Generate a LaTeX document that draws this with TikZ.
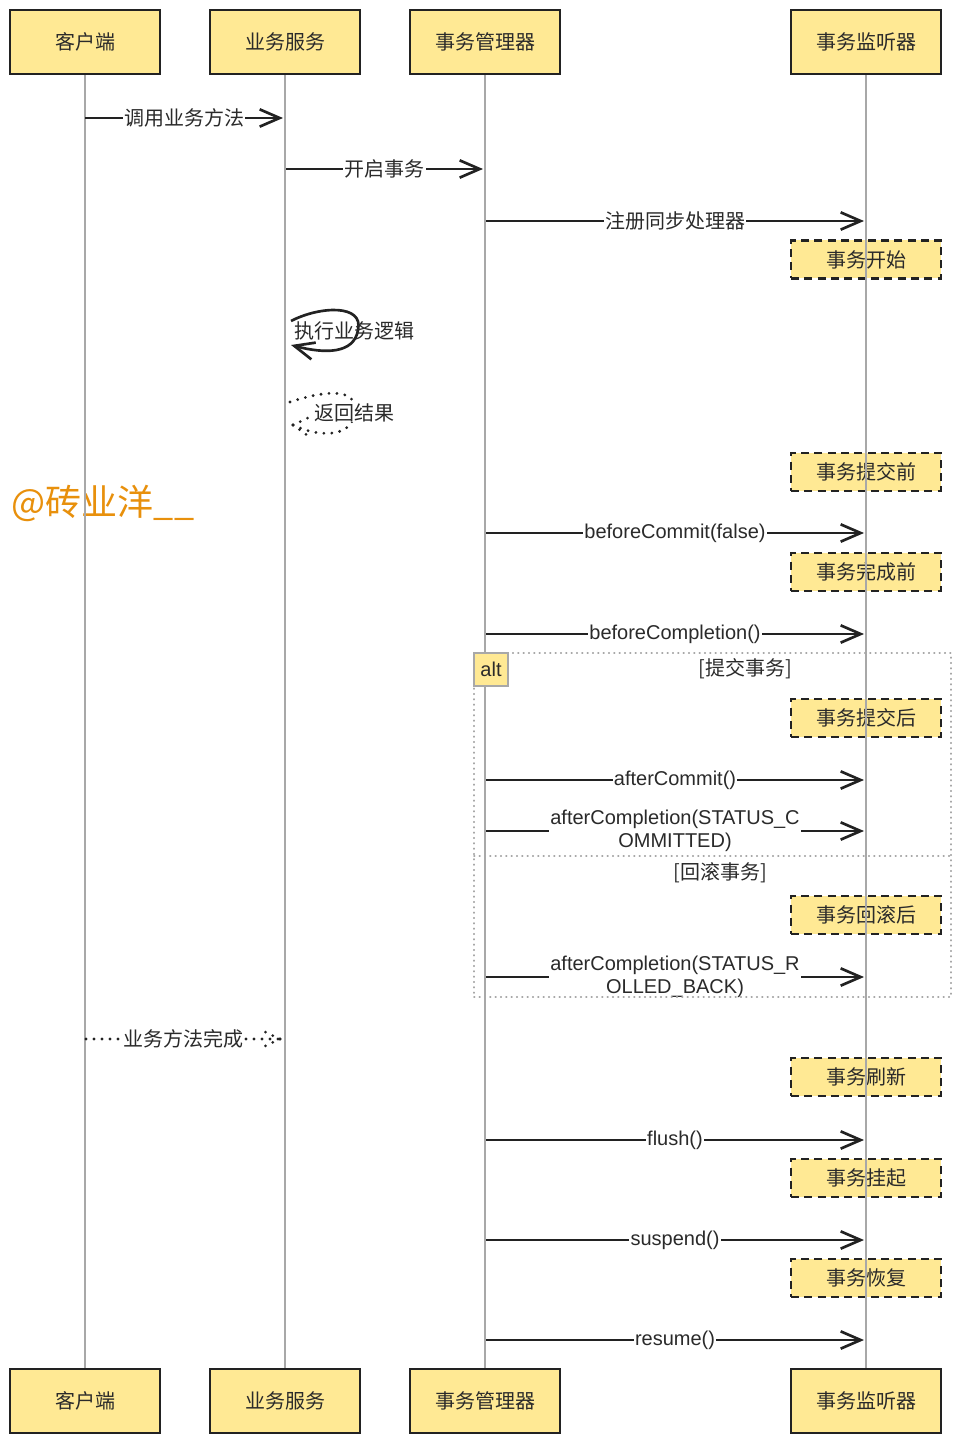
\documentclass[tikz,border=0pt]{standalone}
\usepackage{fontspec}
\setmainfont{Liberation Sans}
\newfontfamily\cjk{Noto Sans CJK SC}
\usetikzlibrary{arrows.meta}
\definecolor{boxfill}{HTML}{FFE994}
\definecolor{ink}{HTML}{222222}
\definecolor{life}{HTML}{A8A8A8}
\definecolor{mark}{HTML}{E8900C}
\definecolor{txt}{HTML}{2A2A2A}
\tikzset{
 actor/.style={draw=ink,line width=1.9pt,fill=boxfill,minimum width=112.5pt,minimum height=48pt,inner sep=0pt,text=txt,font=\cjk\fontsize{15pt}{18pt}\selectfont},
 notebox/.style={draw=ink,line width=1.9pt,dash pattern=on 6pt off 4pt,fill=boxfill,minimum width=112.5pt,minimum height=28.5pt,inner sep=0pt,text=txt,font=\cjk\fontsize{15pt}{18pt}\selectfont},
 lifeline/.style={draw=life,line width=0.9pt},
 msg/.style={draw=ink,line width=2pt,-{Straight Barb[length=15pt,width=13pt,line width=2pt]}},
 lbl/.style={fill=white,inner sep=1pt,text=txt,font=\fontsize{15pt}{17pt}\selectfont},
 clbl/.style={fill=white,inner sep=1pt,text=txt,font=\cjk\fontsize{15pt}{17pt}\selectfont},
 ret/.style={draw=ink,line width=2.3pt,line cap=round,dash pattern=on 0pt off 6pt},
 frame/.style={draw=life,line width=1.2pt,line cap=round,dash pattern=on 0.5pt off 3.5pt},
}
\begin{document}
\begin{tikzpicture}[x=0.75pt,y=-0.75pt]
\useasboundingbox (0,0) rectangle (961,1444);
% group labels
\node[clbl,fill=none] (g1) at (745,669) {[提交事务]};
\node[clbl,fill=none] (g2) at (720,873) {[回滚事务]};
% watermark
\node[text=mark,font=\cjk\fontsize{27pt}{30pt}\selectfont,inner sep=0pt] (wm) at (103,503) {@砖业洋\_\_};
% notes
\node[notebox] (n1) at (866,259.5) {事务开始};
\node[notebox] (n2) at (866,472) {事务提交前};
\node[notebox] (n3) at (866,572) {事务完成前};
\node[notebox] (n4) at (866,718) {事务提交后};
\node[notebox] (n5) at (866,915) {事务回滚后};
\node[notebox] (n6) at (866,1077) {事务刷新};
\node[notebox] (n7) at (866,1178) {事务挂起};
\node[notebox] (n8) at (866,1278) {事务恢复};
% actors
\node[actor] (a1) at (85,42) {客户端};
\node[actor] (a2) at (285,42) {业务服务};
\node[actor] (a3) at (485,42) {事务管理器};
\node[actor] (a4) at (866,42) {事务监听器};
\node[actor] (b1) at (85,1401) {客户端};
\node[actor] (b2) at (285,1401) {业务服务};
\node[actor] (b3) at (485,1401) {事务管理器};
\node[actor] (b4) at (866,1401) {事务监听器};
% lifelines
\draw[lifeline] (a1.south) -- (b1.north);
\draw[lifeline] (a2.south) -- (b2.north);
\draw[lifeline] (a3.south) -- (b3.north);
\draw[lifeline] (a4.south) -- (b4.north);
% messages
\coordinate (m1a) at (85,118);  \coordinate (m1b) at (283,118);
\draw[msg] (m1a) -- node[clbl] (l1) {调用业务方法} (m1b);
\coordinate (m2a) at (286,169); \coordinate (m2b) at (483,169);
\draw[msg] (m2a) -- node[clbl] (l2) {开启事务} (m2b);
\coordinate (m3a) at (486,221); \coordinate (m3b) at (864,221);
\draw[msg] (m3a) -- node[clbl] (l3) {注册同步处理器} (m3b);
% self call
\coordinate (s1a) at (291,321); \coordinate (s1b) at (291,345);
\draw[msg] (s1a) .. controls (320,306) and (364,304) .. (358,330) .. controls (354,354) and (325,354) .. (s1b);
\node[text=txt,font=\cjk\fontsize{15pt}{17pt}\selectfont,inner sep=0pt] (l4) at (354,331) {执行业务逻辑};
% return (dotted self)
\coordinate (s2a) at (290,402); \coordinate (s2b) at (293,425);
\draw[ret] (s2a) .. controls (320,392) and (356,386) .. (355,410) .. controls (354,438) and (320,438) .. (s2b);
\draw[ret] (s2b) -- (312,416);
\draw[ret] (s2b) -- (311,438);
\node[clbl,inner sep=0pt] (l5) at (354,413) {返回结果};
\coordinate (m6a) at (486,533); \coordinate (m6b) at (864,533);
\draw[msg] (m6a) -- node[lbl] (l6) {beforeCommit(false)} (m6b);
\coordinate (m7a) at (486,634); \coordinate (m7b) at (864,634);
\draw[msg] (m7a) -- node[lbl] (l7) {beforeCompletion()} (m7b);
\coordinate (m8a) at (486,780); \coordinate (m8b) at (864,780);
\draw[msg] (m8a) -- node[lbl] (l8) {afterCommit()} (m8b);
\coordinate (m9a) at (486,831); \coordinate (m9b) at (864,831);
\draw[msg] (m9a) -- node[lbl,align=center,font=\fontsize{15pt}{17.25pt}\selectfont] (l9) {afterCompletion(STATUS\_C\\OMMITTED)} (m9b);
\coordinate (m10a) at (486,977); \coordinate (m10b) at (864,977);
\draw[msg] (m10a) -- node[lbl,align=center,font=\fontsize{15pt}{17.25pt}\selectfont] (l10) {afterCompletion(STATUS\_R\\OLLED\_BACK)} (m10b);
% dotted return to client
\coordinate (m11a) at (86,1039); \coordinate (m11b) at (280,1039);
\draw[ret] (m11a) -- node[clbl] (l11) {业务方法完成} (m11b);
\draw[ret] (m11b) -- (261,1030);
\draw[ret] (m11b) -- (261,1048);
\coordinate (m12a) at (486,1140); \coordinate (m12b) at (864,1140);
\draw[msg] (m12a) -- node[lbl] (l12) {flush()} (m12b);
\coordinate (m13a) at (486,1240); \coordinate (m13b) at (864,1240);
\draw[msg] (m13a) -- node[lbl] (l13) {suspend()} (m13b);
\coordinate (m14a) at (486,1340); \coordinate (m14b) at (864,1340);
\draw[msg] (m14a) -- node[lbl] (l14) {resume()} (m14b);
% alt frame (on top)
\node[frame,minimum width=357.75pt,minimum height=258pt,inner sep=0pt] (alt) at (712.5,825) {};
\coordinate (divL) at (474,856);
\coordinate (divR) at (951,856);
\draw[frame] (divL) -- (divR);
\node[draw=life,line width=1.2pt,fill=boxfill,minimum width=25.5pt,minimum height=24.75pt,inner sep=0pt,text=txt,font=\fontsize{15pt}{17pt}\selectfont] (tag) at (491,669.5) {alt};
\end{tikzpicture}
\end{document}
